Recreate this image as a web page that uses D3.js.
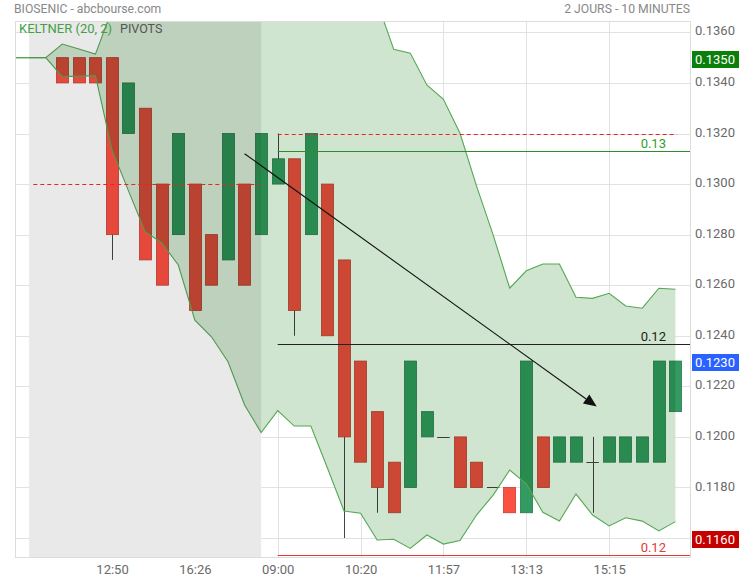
<!DOCTYPE html>
<html>
<head>
<meta charset="utf-8">
<script src="https://cdn.jsdelivr.net/npm/d3@7"></script>
<style>
  body { margin: 0; background: #fff; }
  svg { display: block; font-family: Roboto, sans-serif; }
</style>
</head>
<body>
<svg id="chart" width="739" height="580"></svg>
<script>
// candles, one per 10 minutes (index = position on the time axis)
const opens  = [0.1350,0.1350,0.1350,0.1350,0.1320,0.1330,0.1300,0.1280,0.1300,0.1280,0.1270,0.1300,0.1280,
                0.1300,0.1310,0.1280,0.1300,0.1270,0.1230,0.1210,0.1190,0.1180,0.1200,0.1200,0.1200,0.1190,
                0.1180,0.1180,0.1170,0.1200,0.1190,0.1190,0.1190,0.1190,0.1190,0.1190,0.1190,0.1210]
const closes = [0.1340,0.1340,0.1340,0.1280,0.1340,0.1270,0.1260,0.1320,0.1250,0.1260,0.1320,0.1260,0.1320,
                0.1310,0.1250,0.1320,0.1240,0.1200,0.1190,0.1180,0.1170,0.1230,0.1210,0.1200,0.1180,0.1180,
                0.1180,0.1170,0.1230,0.1180,0.1200,0.1200,0.1190,0.1200,0.1200,0.1200,0.1230,0.1230]
const highs  = [0.1350,0.1350,0.1350,0.1350,0.1340,0.1330,0.1300,0.1320,0.1300,0.1280,0.1320,0.1300,0.1320,
                0.1320,0.1310,0.1320,0.1300,0.1270,0.1230,0.1210,0.1190,0.1230,0.1210,0.1200,0.1200,0.1190,
                0.1180,0.1180,0.1230,0.1200,0.1200,0.1200,0.1200,0.1200,0.1200,0.1200,0.1230,0.1230]
const lows   = [0.1340,0.1340,0.1340,0.1270,0.1320,0.1270,0.1260,0.1280,0.1250,0.1260,0.1270,0.1260,0.1280,
                0.1300,0.1240,0.1280,0.1240,0.1160,0.1190,0.1170,0.1170,0.1180,0.1200,0.1200,0.1180,0.1180,
                0.1180,0.1170,0.1170,0.1180,0.1190,0.1190,0.1170,0.1190,0.1190,0.1190,0.1190,0.1210]

// keltner (20, 2) band, two points before the first visible candle
const bandIdx = [-3, -1].concat(d3.range(opens.length))
const bandUpper = [0.1350,0.1350,
  0.13554,0.13534,0.13514,0.1369,0.1378,0.1384,0.1388,0.1390,0.1392,0.1391,0.1390,0.1389,0.1386,
  0.1384,0.1382,0.1379,0.1377,0.1375,0.1374,0.1372,0.13533,0.13518,0.13392,0.13335,0.13201,0.12992,
  0.12799,0.12588,0.12657,0.12684,0.12684,0.12552,0.12548,0.12568,0.12518,0.12509,0.12588,0.12584]
const bandLower = [0.1350,0.1350,
  0.13425,0.13427,0.13429,0.13135,0.12972,0.12812,0.12768,0.12680,0.12462,0.12396,0.12297,0.12126,
  0.12017,0.12104,0.12043,0.12043,0.11877,0.11707,0.11698,0.11592,0.11595,0.11559,0.11612,0.11576,
  0.11590,0.11691,0.11770,0.11869,0.11814,0.11702,0.11667,0.11774,0.11691,0.11648,0.11680,0.11667,
  0.11628,0.11665]

// time axis
const tickIdx = [3, 8, 13, 18, 23, 28, 33]
const tickLabels = ["12:50", "16:26", "09:00", "10:20", "11:57", "13:13", "15:15"]
const priceTicks = [0.1180, 0.1200, 0.1220, 0.1240, 0.1260, 0.1280, 0.1300, 0.1320, 0.1340, 0.1360]
const gridPrices = [0.1160].concat(priceTicks)

// previous session (grey) and reference lines
const prevSession = [-2, 12]
const dashedFrom = [-1.75, 13]
const dashedTo = [12, 37.1]
const dashedValue = [0.1300, 0.1320]

// pivots
const pivotValues = [0.13129, 0.12368, 0.11533]
const pivotColors = ["#2e8b2e", "#222", "#e53935"]
const pivotStart = 13

// trend arrow (index, price)
const arrowFrom = [11, 0.1312]
const arrowTo = [32.25, 0.1212]

// highlighted prices on the right axis
const markValues = [0.1350, 0.1230, 0.1160]
const markColors = ["#0a800a", "#2962ff", "#c40000"]

const W = 739, H = 580
const plot = {left: 15, right: 690, top: 21, bottom: 557}

const svg = d3.select("#chart")
const x = d3.scaleLinear().domain([-2.855, 37.88]).range([plot.left, plot.right])
const y = d3.scaleLinear().domain([0.11525, 0.13645]).range([plot.bottom, plot.top])
const step = x(1) - x(0)
const bw = step * 0.75

svg.append("defs").append("clipPath").attr("id", "clip")
  .append("rect")
  .attr("x", plot.left).attr("y", plot.top)
  .attr("width", plot.right - plot.left).attr("height", plot.bottom - plot.top)

// grid
const grid = svg.append("g")
grid.selectAll("line.h").data(gridPrices).enter().append("line")
  .attr("x1", plot.left).attr("x2", plot.right)
  .attr("y1", d => Math.round(y(d)) + 0.5).attr("y2", d => Math.round(y(d)) + 0.5)
  .attr("stroke", "#e2e2e2")
grid.selectAll("line.v").data(tickIdx).enter().append("line")
  .attr("x1", d => Math.round(x(d)) + 0.5).attr("x2", d => Math.round(x(d)) + 0.5)
  .attr("y1", plot.top).attr("y2", plot.bottom)
  .attr("stroke", "#e2e2e2")

const body = svg.append("g").attr("clip-path", "url(#clip)")

// candles
const candles = d3.range(opens.length).map(i => ({
  i: i, o: opens[i], c: closes[i], h: highs[i], l: lows[i]
}))
const red = "#fc5040", green = "#339b62"

body.selectAll("line.wick").data(candles.filter(d => d.h > Math.max(d.o, d.c) || d.l < Math.min(d.o, d.c)))
  .enter().append("line")
  .attr("x1", d => Math.round(x(d.i)) + 0.5).attr("x2", d => Math.round(x(d.i)) + 0.5)
  .attr("y1", d => y(d.h)).attr("y2", d => y(d.l))
  .attr("stroke", "#444").attr("stroke-width", 1)

body.selectAll("rect.candle").data(candles.filter(d => d.o !== d.c))
  .enter().append("rect")
  .attr("x", d => Math.round(x(d.i) - bw / 2) + 0.5)
  .attr("y", d => y(Math.max(d.o, d.c)))
  .attr("width", Math.round(bw))
  .attr("height", d => y(Math.min(d.o, d.c)) - y(Math.max(d.o, d.c)))
  .attr("fill", d => d.c > d.o ? green : red)
  .attr("stroke", d => d3.color(d.c > d.o ? green : red).darker(0.7))
  .attr("stroke-width", 0.8)

body.selectAll("line.doji").data(candles.filter(d => d.o === d.c))
  .enter().append("line")
  .attr("x1", d => x(d.i) - bw / 2).attr("x2", d => x(d.i) + bw / 2)
  .attr("y1", d => Math.round(y(d.o)) + 0.5).attr("y2", d => Math.round(y(d.o)) + 0.5)
  .attr("stroke", "#444")

// keltner band, multiplied over candles
const band = bandIdx.map((d, k) => ({i: d, u: bandUpper[k], l: bandLower[k]}))
body.append("path").datum(band)
  .attr("d", d3.area().x(d => x(d.i)).y0(d => y(d.l)).y1(d => y(d.u)))
  .attr("fill", "#cfe5cf")
  .style("mix-blend-mode", "multiply")
body.append("path").datum(band)
  .attr("d", d3.line().x(d => x(d.i)).y(d => y(d.u)))
  .attr("fill", "none").attr("stroke", "#55a855").attr("stroke-width", 1.1)
body.append("path").datum(band)
  .attr("d", d3.line().x(d => x(d.i)).y(d => y(d.l)))
  .attr("fill", "none").attr("stroke", "#55a855").attr("stroke-width", 1.1)

// previous session shade
body.append("rect")
  .attr("x", x(prevSession[0])).attr("y", plot.top)
  .attr("width", x(prevSession[1]) - x(prevSession[0]))
  .attr("height", plot.bottom - plot.top)
  .attr("fill", "#e9e9e9")
  .style("mix-blend-mode", "multiply")

// dashed reference lines
body.selectAll("line.dash").data(dashedValue).enter().append("line")
  .attr("x1", (d, k) => x(dashedFrom[k])).attr("x2", (d, k) => x(dashedTo[k]))
  .attr("y1", d => Math.round(y(d)) + 0.5).attr("y2", d => Math.round(y(d)) + 0.5)
  .attr("stroke", "#e8261c").attr("stroke-dasharray", "4,3")

// pivots
body.selectAll("line.pivot").data(pivotValues).enter().append("line")
  .attr("x1", x(pivotStart)).attr("x2", plot.right)
  .attr("y1", d => Math.round(y(d)) + 0.5).attr("y2", d => Math.round(y(d)) + 0.5)
  .attr("stroke", (d, k) => pivotColors[k])
svg.selectAll("text.pivot").data(pivotValues).enter().append("text")
  .attr("x", plot.right - 24).attr("y", d => Math.round(y(d)) - 3)
  .attr("text-anchor", "end").attr("font-size", 13)
  .attr("fill", (d, k) => k === 0 ? "#2e9e2e" : pivotColors[k])
  .text(d => d3.format(".2f")(d))

// trend arrow
const ax1 = x(arrowFrom[0]), ay1 = y(arrowFrom[1])
const ax2 = x(arrowTo[0]), ay2 = y(arrowTo[1])
const ang = Math.atan2(ay2 - ay1, ax2 - ax1)
const hl = 13, hw = 5.5
body.append("line")
  .attr("x1", ax1).attr("y1", ay1)
  .attr("x2", ax2 - hl * Math.cos(ang)).attr("y2", ay2 - hl * Math.sin(ang))
  .attr("stroke", "#111").attr("stroke-width", 1.1)
const bx = ax2 - hl * Math.cos(ang), by = ay2 - hl * Math.sin(ang)
body.append("polygon")
  .attr("points", [
    [ax2, ay2],
    [bx + hw * Math.sin(ang), by - hw * Math.cos(ang)],
    [bx - hw * Math.sin(ang), by + hw * Math.cos(ang)]
  ].map(p => p.join(",")).join(" "))
  .attr("fill", "#111")

// frame
svg.append("rect")
  .attr("x", plot.left + 0.5).attr("y", plot.top + 0.5)
  .attr("width", plot.right - plot.left).attr("height", plot.bottom - plot.top)
  .attr("fill", "none").attr("stroke", "#dcdcdc")

// axes
const yAxis = svg.append("g")
  .attr("transform", "translate(" + plot.right + ",0)")
  .call(d3.axisRight(y).tickValues(priceTicks).tickFormat(d3.format(".4f")).tickSize(0).tickPadding(5))
yAxis.select(".domain").remove()
yAxis.selectAll("text").attr("font-size", 13).attr("fill", "#6a6a6a")
  .attr("font-family", "Roboto, sans-serif").attr("dy", "0.2em")

const xAxis = svg.append("g")
  .attr("transform", "translate(0," + plot.bottom + ")")
  .call(d3.axisBottom(x).tickValues(tickIdx).tickFormat((d, k) => tickLabels[k]).tickSize(0).tickPadding(8))
xAxis.select(".domain").remove()
xAxis.selectAll("text").attr("font-size", 13).attr("fill", "#6a6a6a")
  .attr("font-family", "Roboto, sans-serif")

// highlighted prices
const marks = svg.selectAll("g.mark").data(markValues).enter().append("g")
marks.append("rect")
  .attr("x", plot.right + 2).attr("y", d => Math.round(y(d)) - 7)
  .attr("width", W - plot.right - 2).attr("height", 17)
  .attr("fill", (d, k) => markColors[k])
marks.append("text")
  .attr("x", plot.right + 5).attr("y", d => Math.round(y(d)) + 6)
  .attr("font-size", 13).attr("fill", "#fff")
  .text(d => d3.format(".4f")(d))

// titles
svg.append("text").attr("x", 14).attr("y", 13)
  .attr("font-size", 12.2).attr("fill", "#888")
  .text("BIOSENIC - abcbourse.com")
svg.append("text").attr("x", plot.right).attr("y", 13)
  .attr("text-anchor", "end").attr("font-size", 12.2).attr("fill", "#888")
  .text("2 JOURS - 10 MINUTES")
svg.append("text").attr("x", 19).attr("y", 33)
  .attr("font-size", 13).attr("fill", "#43a047")
  .text("KELTNER (20, 2)")
svg.append("text").attr("x", 120).attr("y", 33)
  .attr("font-size", 12.5).attr("fill", "#555")
  .text("PIVOTS")
</script>
</body>
</html>
